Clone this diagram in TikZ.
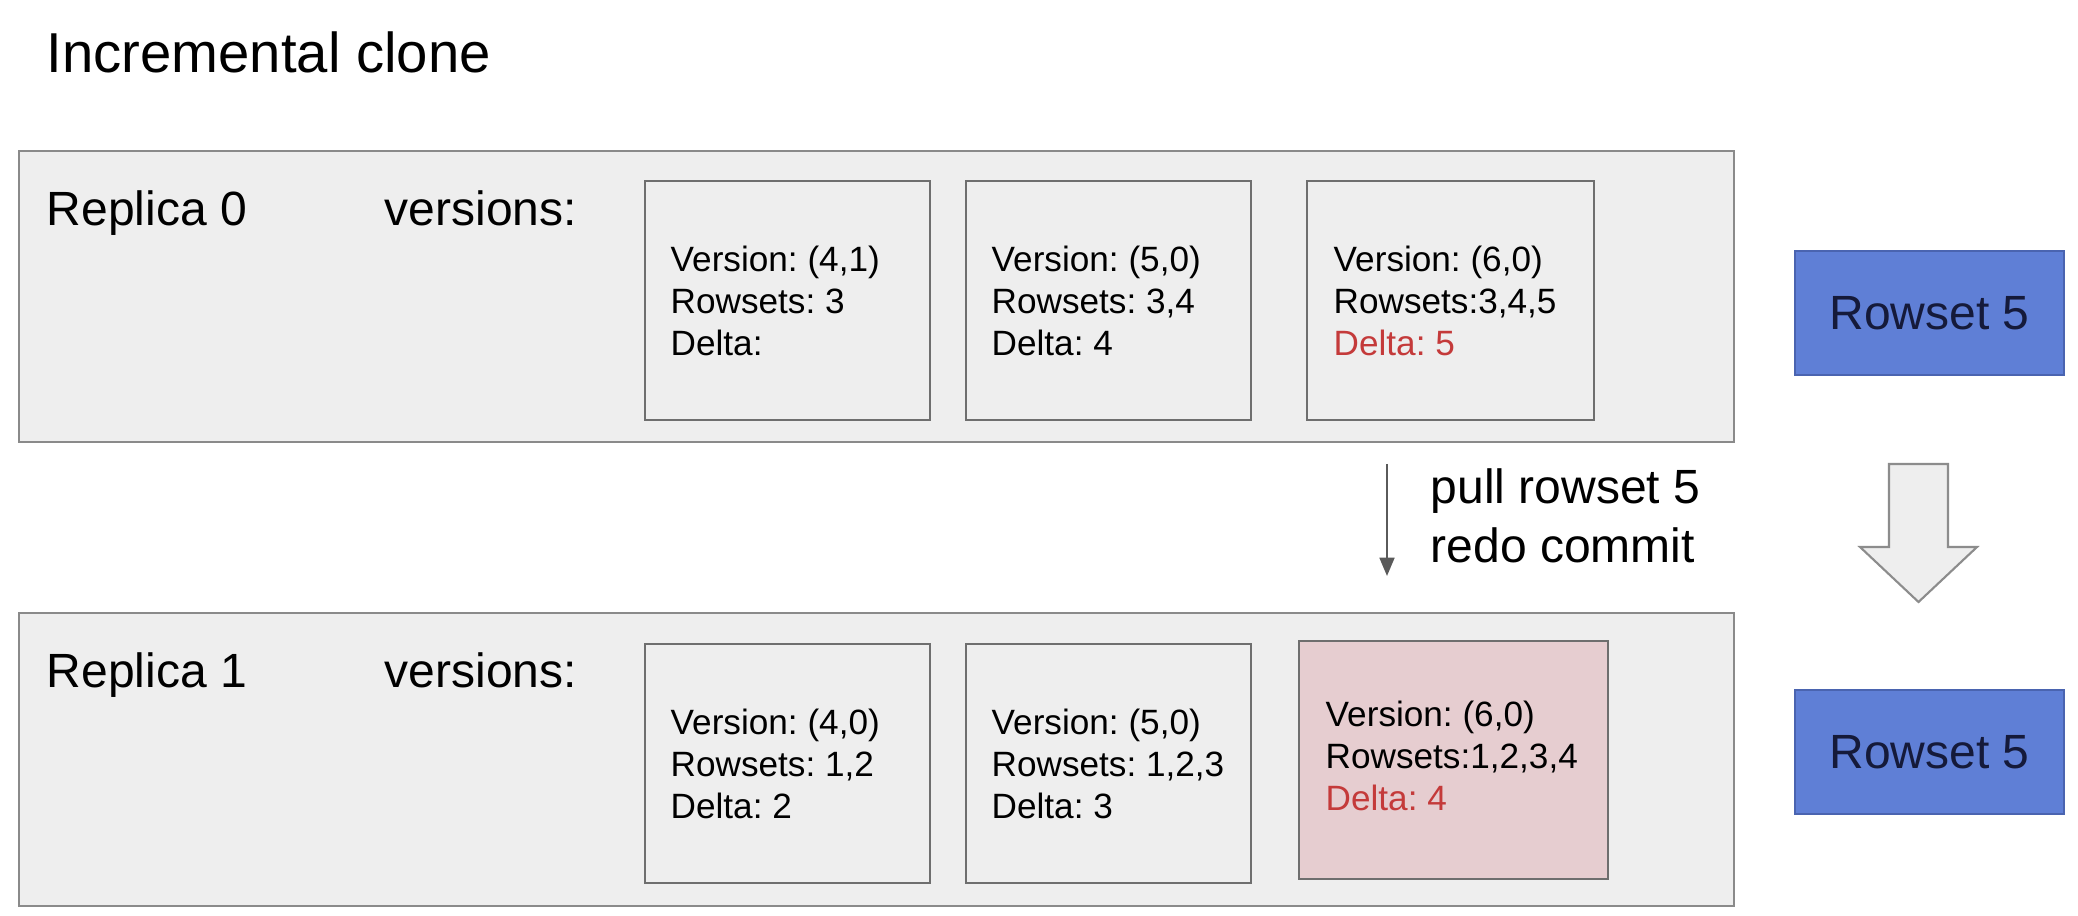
\documentclass[tikz,border=0pt]{standalone}
\usepackage{fontspec}
\setmainfont{Liberation Sans}
\usetikzlibrary{arrows.meta,calc}
\frenchspacing
\definecolor{panelfill}{HTML}{EEEEEE}
\definecolor{panelline}{HTML}{8A8A8A}
\definecolor{boxline}{HTML}{6E6E6E}
\definecolor{pinkfill}{HTML}{E6CDD0}
\definecolor{deltared}{HTML}{C43A3A}
\definecolor{rowblue}{HTML}{5F7FD6}
\definecolor{rowline}{HTML}{4A64B0}
\definecolor{rowtext}{HTML}{151A3A}
\definecolor{arrowgray}{HTML}{5A5A5A}
\definecolor{bigarrowline}{HTML}{8C8C8C}
\tikzset{
  panel/.style={draw=panelline, line width=0.6pt, fill=panelfill, anchor=north west, inner sep=0pt},
  verbox/.style={draw=boxline, line width=0.6pt, fill=panelfill, anchor=north west,
    minimum width=2.85cm, minimum height=2.39cm, inner sep=0pt},
  newbox/.style={verbox, fill=pinkfill, minimum width=3.09cm, minimum height=2.38cm},
  vertext/.style={anchor=west, inner sep=0pt, align=left, font=\fontsize{10}{11.95}\selectfont},
  rowsetbox/.style={draw=rowline, line width=0.6pt, fill=rowblue, anchor=north west, inner sep=0pt,
    minimum width=2.69cm, minimum height=1.24cm, text=rowtext, font=\fontsize{13.66}{16}\selectfont},
  label/.style={anchor=base west, inner sep=0pt, font=\fontsize{13.66}{16}\selectfont},
}
\begin{document}
\begin{tikzpicture}[x=0.01cm, y=-0.01cm]
\useasboundingbox[fill=white] (0,0) rectangle (2078,916);

\node[anchor=base west, inner sep=0pt, font=\fontsize{16}{19}\selectfont] (title) at (46,73) {Incremental clone};

% Replica 0
\node[panel, minimum width=17.14cm, minimum height=2.91cm] (rep0) at (18,150) {};
\node[label] (r0name) at (46,226) {Replica 0};
\node[label] (r0ver) at (384,226) {versions:};
\node[verbox] (r0v1) at (644,180) {};
\node[verbox] (r0v2) at (965,180) {};
\node[verbox, minimum width=2.87cm] (r0v3) at (1306,180) {};
\node[vertext] (r0t1) at ($(r0v1.west)+(26,0)$) {Version: (4,1)\\Rowsets: 3\\Delta:};
\node[vertext] (r0t2) at ($(r0v2.west)+(26,0)$) {Version: (5,0)\\Rowsets: 3,4\\Delta: 4};
\node[vertext] (r0t3) at ($(r0v3.west)+(27,0)$) {Version: (6,0)\\Rowsets:3,4,5\\\textcolor{deltared}{Delta: 5}};

% Replica 1
\node[panel, minimum width=17.14cm, minimum height=2.93cm] (rep1) at (18,612) {};
\node[label] (r1name) at (46,688) {Replica 1};
\node[label] (r1ver) at (384,688) {versions:};
\node[verbox] (r1v1) at (644,643) {};
\node[verbox] (r1v2) at (965,643) {};
\node[newbox] (r1v3) at (1298,640) {};
\node[vertext] (r1t1) at ($(r1v1.west)+(26,0)$) {Version: (4,0)\\Rowsets: 1,2\\Delta: 2};
\node[vertext] (r1t2) at ($(r1v2.west)+(26,0)$) {Version: (5,0)\\Rowsets: 1,2,3\\Delta: 3};
\node[vertext] (r1t3) at ($(r1v3.west)+(27,-4)$) {Version: (6,0)\\Rowsets:1,2,3,4\\\textcolor{deltared}{Delta: 4}};

% Rowset boxes
\node[rowsetbox] (rs0) at (1794,250) {Rowset 5};
\node[rowsetbox] (rs1) at (1794,689) {Rowset 5};

% thin arrow
\coordinate (pullA) at (1387,464);
\coordinate (pullB) at (1387,576);
\draw[arrowgray, line width=0.7pt, -{Triangle[length=5.2pt, width=4.2pt]}] (pullA) -- (pullB);
\node[anchor=west, inner sep=0pt, align=left, font=\fontsize{13.66}{16.8}\selectfont] (pulltext) at (1430,516) {pull rowset 5\\redo commit};

% big block arrow
\draw[draw=bigarrowline, line width=0.6pt, fill=panelfill, line join=miter]
  (1889,464) -- (1948,464) -- (1948,547) -- (1977,547) -- (1918.5,602) -- (1860,547) -- (1889,547) -- cycle;
\end{tikzpicture}
\end{document}
